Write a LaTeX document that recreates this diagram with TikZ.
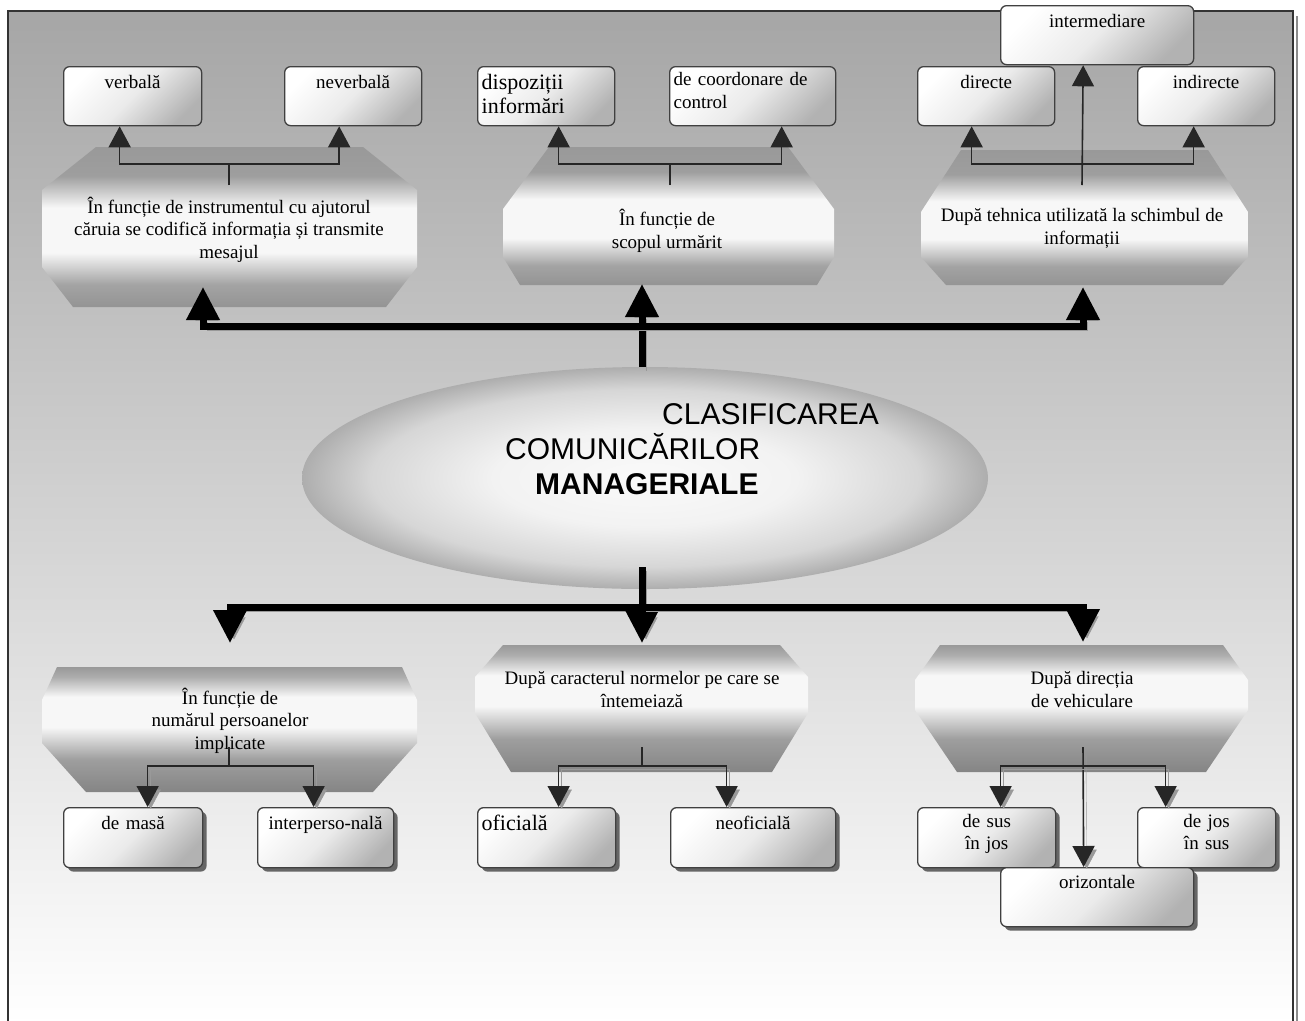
\documentclass[tikz,border=0pt]{standalone}
\usepackage{fontspec}
\setmainfont{Liberation Serif}
\newfontfamily\titlefont{Liberation Sans}
\usetikzlibrary{arrows.meta, shapes.geometric, shadows}

\newcommand{\boxfnt}{\fontsize{19}{22}\selectfont}
\newcommand{\largefnt}{\fontsize{22}{24}\selectfont}
\newcommand{\coordfnt}{\fontsize{19}{23}\selectfont}
\newcommand{\critfnt}{\fontsize{19}{22.5}\selectfont}

% shadings for the criteria banners and the central plate
\pgfdeclareverticalshading{bannershade}{100bp}{gray(0bp)=(0.58); gray(25bp)=(0.58); gray(32bp)=(0.64); gray(42bp)=(0.97); gray(56bp)=(0.97); gray(66bp)=(0.62); gray(75bp)=(0.6); gray(100bp)=(0.6)}
\pgfdeclareverticalshading{bannershadelow}{100bp}{gray(0bp)=(0.52); gray(25bp)=(0.52); gray(38bp)=(0.62); gray(51bp)=(0.97); gray(63bp)=(0.97); gray(71bp)=(0.68); gray(75bp)=(0.6); gray(100bp)=(0.6)}
\pgfdeclareradialshading{plate}{\pgfpoint{0bp}{0bp}}{gray(0bp)=(0.98); gray(11bp)=(0.95); gray(20bp)=(0.84); gray(25bp)=(0.68); gray(50bp)=(0.68)}

% banner: shading, x1, y1, x2, y2, top dx, top dy, bottom dx, bottom dy
\newcommand{\banner}[9]{%
  \shade[shading=#1] (#2+#6,#3) -- (#4-#6,#3) -- (#4,#3+#7) -- (#4,#5-#9) -- (#4-#8,#5) -- (#2+#8,#5) -- (#2,#5-#9) -- (#2,#3+#7) -- cycle;}

\tikzset{
  frame/.style={draw=black!80, line width=1.2pt, top color=black!35, bottom color=white},
  box/.style={draw=black!75, line width=1.3pt, rounded corners=6pt,
    top color=white, bottom color=black!30, middle color=white!92!black, shading angle=45,
    anchor=north west, inner xsep=4pt, inner ysep=0pt, text height=22pt, text depth=37pt,
    align=center, font=\boxfnt, text width=#1},
  shadowbox/.style={box=#1, text depth=38pt, drop shadow={shadow xshift=4pt, shadow yshift=-4pt, fill=black!60, opacity=1}},
  plate/.style={ellipse, shading=plate, minimum width=686pt, minimum height=222pt, inner sep=0pt},
  title/.style={font={\titlefont\fontsize{30}{35}\selectfont}, align=left, anchor=base west, inner sep=0pt},
  crit/.style={font=\critfnt, align=center, inner sep=0pt, anchor=base},
  shadowed/.style={preaction={draw=black!40, transform canvas={shift={(#1,-#1)}}}},
  shadowed/.default=4pt,
  link/.style={draw=black!85, line width=1.6pt},
  linkarr/.style={link, -{Triangle[width=22pt,length=21pt]}},
  bigline/.style={draw=black, line width=7pt},
  bigarr/.style={bigline, -{Triangle[width=32pt,length=33pt]}},
}

\begin{document}
\begin{tikzpicture}[x=1pt, y=-1pt]
\useasboundingbox (0,0) rectangle (1305,1020);
\draw[black!45, line width=2.5pt] (1297,16) -- (1297,1024);
\draw[frame] (8,11) rectangle (1293,1024);

% criteria
\banner{bannershade}{42}{147}{417}{307}{54}{43}{31}{40}
\banner{bannershade}{503}{147}{834}{285}{46}{62}{17}{28}
\banner{bannershade}{921}{150}{1248}{285}{40}{62}{25}{28}
\banner{bannershadelow}{42}{667}{417}{792}{15}{33}{44}{49}
\banner{bannershadelow}{475}{645}{808}{772}{28}{32}{36}{59}
\banner{bannershadelow}{915}{645}{1248}{772}{25}{35}{42}{62}

% (base = last line)
\node[crit] (instr) at (229,258) {În funcție de instrumentul cu ajutorul\\căruia se codifică informația și transmite\\mesajul};
\node[crit] (scop) at (667,248) {În funcție de\\scopul urmărit};
\node[crit] (tehn) at (1082,244) {După tehnica utilizată la schimbul de\\informații};
\node[crit] (numar) at (230,749) {În funcție de\\numărul persoanelor\\implicate};
\node[crit] (norme) at (642,707) {După caracterul normelor pe care se\\întemeiază};
\node[crit] (dir) at (1082,707) {După direcția\\de vehiculare};

% centre
\node[plate] (clasif) at (645,478) {};
\node[title] (ttl) at (505,494) {\hspace*{157pt}CLASIFICAREA\\COMUNICĂRILOR\\\hspace*{30pt}\textbf{MANAGERIALE}};

% forms
\node[box=130pt] (verb) at (63,66) {verbală};
\node[box=129pt] (neverb) at (284,66) {neverbală};
\node[box=129pt, align=left, font=\largefnt, text height=23pt, text depth=36pt] (disp) at (477,66) {dispoziții\\informări};
\node[box=158pt, align=left, font=\coordfnt, text height=19pt, text depth=40pt] (coord) at (669,66) {de coordonare de\\control};
\node[box=129pt] (direct) at (917,66) {directe};
\node[box=129pt] (indirect) at (1137,66) {indirecte};
\node[box=185pt] (interm) at (1000,5) {intermediare};

\node[shadowbox=131pt] (masa) at (63,807) {de masă};
\node[shadowbox=128pt] (interp) at (257,807) {interperso-nală};
\node[shadowbox=130pt, align=left, font=\largefnt, text height=23pt, text depth=37pt] (ofic) at (477,807) {oficială};
\node[shadowbox=157pt] (neofic) at (670,807) {neoficială};
\node[shadowbox=130pt, text height=20pt, text depth=40pt] (desus) at (917,807) {de sus\\în jos};
\node[shadowbox=130pt, text height=20pt, text depth=40pt] (dejos) at (1137,807) {de jos\\în sus};
\node[shadowbox=185pt, text height=21pt] (oriz) at (1000,867) {orizontale};

% thick arrows
\coordinate (hubT) at (642,326);
\coordinate (hubB) at (642,607);
\coordinate (stemB) at (642,567);
\coordinate (upL) at (203,287);
\coordinate (upM) at (642,284);
\coordinate (upR) at (1083,287);
\coordinate (dnL) at (230,643);
\coordinate (dnM) at (642,643);
\coordinate (dnR) at (1083,642);
\draw[bigline, shadowed] (clasif.north -| hubT) -- (hubT);
\draw[bigarr, shadowed] (hubT) -| (upL);
\draw[bigarr, shadowed] (hubT) -- (upM);
\draw[bigarr, shadowed] (hubT) -| (upR);
\draw[bigline, shadowed] (stemB) -- (hubB);
\draw[bigarr, shadowed] (hubB) -| (dnL);
\draw[bigarr, shadowed] (hubB) -- (dnM);
\draw[bigarr, shadowed] (hubB) -| (dnR);

% thin links, top
\coordinate (s1) at (229,185);
\coordinate (j1) at (229,164);
\coordinate (s2) at (670,185);
\coordinate (j2) at (670,164);
\coordinate (s3) at (1082,185);
\coordinate (j3) at (1082,164);
\draw[link] (s1) -- (j1);
\draw[linkarr] (j1) -| ([xshift=-13pt]verb.south);
\draw[linkarr] (j1) -| ([xshift=-14pt]neverb.south);
\draw[link] (s2) -- (j2);
\draw[linkarr] (j2) -| ([xshift=12.5pt]disp.south);
\draw[linkarr] (j2) -| ([xshift=29pt]coord.south);
\draw[linkarr] (s3) -- ([xshift=-14pt]interm.south);
\draw[linkarr] (j3) -| ([xshift=-14.5pt]direct.south);
\draw[linkarr] (j3) -| ([xshift=-12.5pt]indirect.south);

% thin links, bottom
\coordinate (s4) at (229,747);
\coordinate (j4) at (229,766);
\coordinate (s5) at (642,747);
\coordinate (j5) at (642,766);
\coordinate (s6) at (1083,747);
\coordinate (j6) at (1083,766);
\draw[link] (s4) -- (j4);
\draw[linkarr, shadowed=3pt] (j4) -| ([xshift=14.5pt]masa.north);
\draw[linkarr, shadowed=3pt] (j4) -| ([xshift=-12pt]interp.north);
\draw[link] (s5) -- (j5);
\draw[linkarr, shadowed=3pt] (j5) -| ([xshift=12pt]ofic.north);
\draw[linkarr, shadowed=3pt] (j5) -| ([xshift=-26.5pt]neofic.north);
\draw[linkarr, shadowed=3pt] (s6) -- ([xshift=-13.5pt]oriz.north);
\draw[linkarr, shadowed=3pt] (j6) -| ([xshift=14pt]desus.north);
\draw[linkarr, shadowed=3pt] (j6) -| ([xshift=-41pt]dejos.north);
\end{tikzpicture}
\end{document}
